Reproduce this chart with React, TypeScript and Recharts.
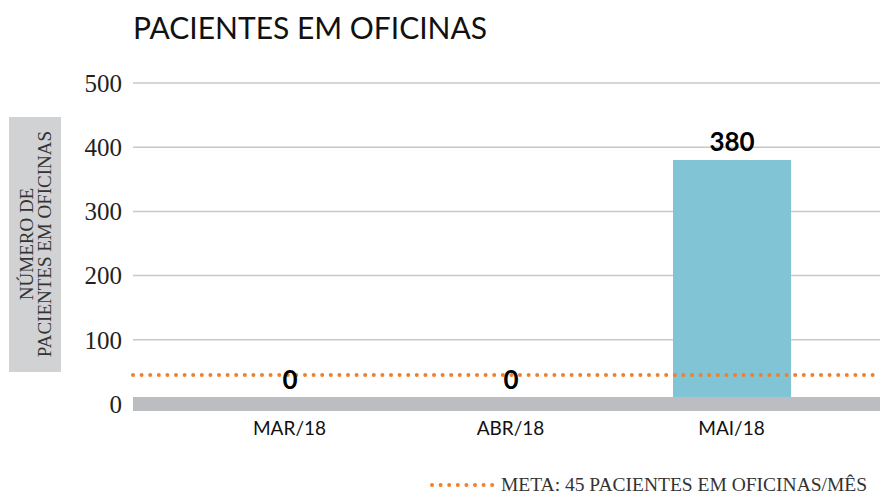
import React from "react";
import { BarChart, Bar, XAxis, YAxis, CartesianGrid, ReferenceLine, LabelList } from "recharts";

const months = ["MAR/18", "ABR/18", "MAI/18"];
const patients = [0, 0, 380];
const yTicks = [0, 100, 200, 300, 400, 500];
const goal = 45;
const title = "PACIENTES EM OFICINAS";
const yLabelLines = ["NÚMERO DE", "PACIENTES EM OFICINAS"];
const legendText = "META: 45 PACIENTES EM OFICINAS/MÊS";

const data = months.map((m, i) => ({ month: m, value: patients[i] }));

const ORANGE = "#f47f2a";
const SERIF = "'Liberation Serif', 'DejaVu Serif', serif";
const SANS = "Lato, 'Open Sans', sans-serif";

const ValueLabel = (props: any) => {
  const { x, y, width, height, value } = props;
  const top = Math.min(y, y + height);
  const off = value === 0 ? 14 : 9;
  return (
    <text x={x + width / 2} y={top - off} textAnchor="middle" fontFamily={SANS} fontWeight={700} fontSize={26} fill="#000">
      {value}
    </text>
  );
};

const YLabel = () => (
  <g>
    <rect x={9} y={117} width={52} height={255} fill="#d1d2d4" />
    <text transform="rotate(-90 35 244)" fontFamily={SERIF} fontSize={19} fill="#333" textAnchor="middle">
      <tspan x={35} y={242}>{yLabelLines[0]}</tspan>
      <tspan x={35} y={260}>{yLabelLines[1]}</tspan>
    </text>
  </g>
);

export default function App() {
  return (
    <div style={{ position: "absolute", left: 0, top: 0, width: 883, height: 497, background: "#fff" }}>
      <div style={{ position: "absolute", left: 133, top: 9, fontFamily: SANS, fontSize: 30, color: "#111", whiteSpace: "nowrap" }}>
        {title}
      </div>
      <BarChart width={883} height={497} data={data} margin={{ top: 83, right: 3, bottom: 63, left: 0 }}>
        <CartesianGrid vertical={false} stroke="#c8c8c8" strokeWidth={1.5} />
        <XAxis
          dataKey="month"
          axisLine={false}
          tickLine={false}
          height={30}
          tickMargin={12}
          padding={{ left: 46, right: 38 }}
          tick={{ fontFamily: SANS, fontSize: 19, fill: "#111" }}
          interval={0}
        />
        <YAxis
          width={133}
          domain={[0, 500]}
          ticks={yTicks}
          axisLine={false}
          tickLine={false}
          tickMargin={5}
          tick={{ fontFamily: SERIF, fontSize: 25, fill: "#231f20" }}
          label={{ content: () => <YLabel /> }}
        />
        <Bar dataKey="value" fill="#80c4d5" barSize={118} minPointSize={1} isAnimationActive={false}>
          <LabelList dataKey="value" content={<ValueLabel />} />
        </Bar>
        <ReferenceLine y={0} stroke="#bcbdc0" strokeWidth={14} />
        <ReferenceLine
          y={goal}
          stroke={ORANGE}
          strokeWidth={4}
          strokeDasharray="0 8.6"
          strokeLinecap="round"
        />
      </BarChart>
      <div style={{ position: "absolute", left: 428, top: 474, height: 22, display: "flex", alignItems: "center", whiteSpace: "nowrap" }}>
        <svg width={72} height={10} style={{ display: "block" }}>
          <line x1={4} y1={5} x2={70} y2={5} stroke={ORANGE} strokeWidth={4} strokeDasharray="0 8.6" strokeLinecap="round" />
        </svg>
        <span style={{ fontFamily: SERIF, fontSize: 19.5, lineHeight: "22px", color: "#333", marginLeft: 1 }}>{legendText}</span>
      </div>
    </div>
  );
}
